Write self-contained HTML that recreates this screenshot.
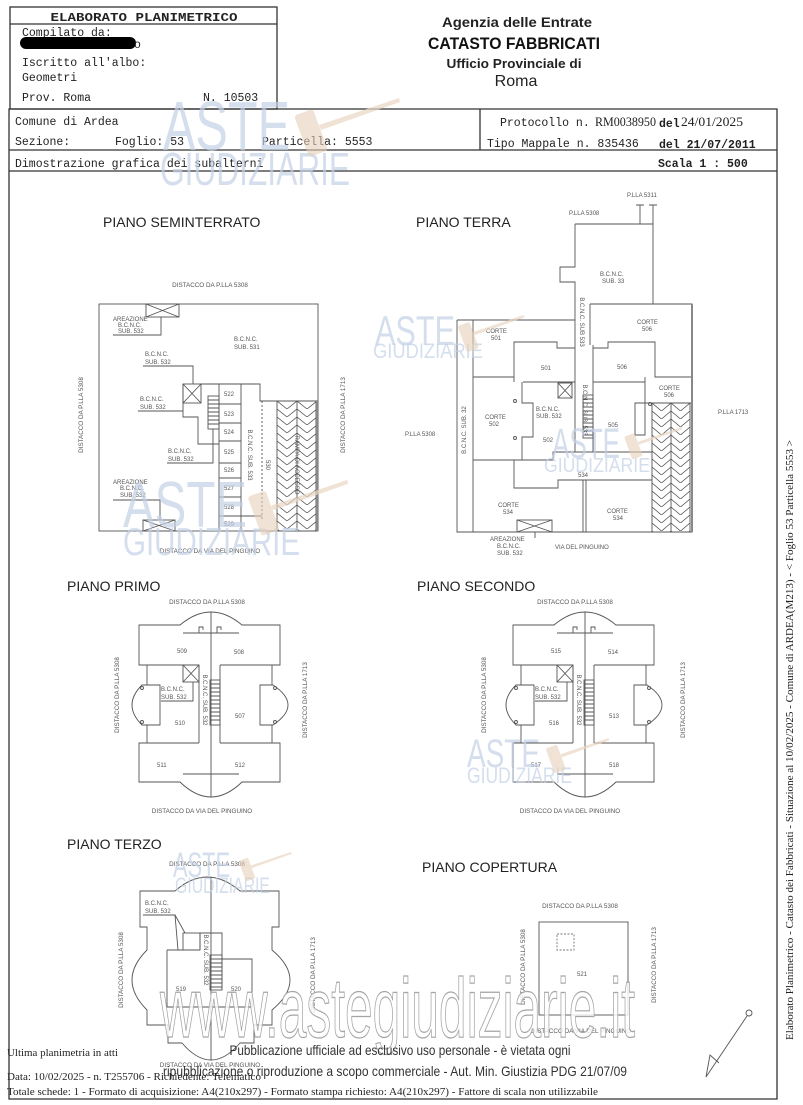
<!DOCTYPE html>
<html><head><meta charset="utf-8"><style>
html,body{margin:0;padding:0;background:#fff;}
svg{display:block;}
.m{font-family:"Liberation Mono",monospace;font-size:11.5px;fill:#222;}
.s{font-family:"Liberation Serif",serif;fill:#222;}
.t{font-family:"Liberation Sans",sans-serif;font-size:6px;fill:#555;}
.d{font-family:"Liberation Sans",sans-serif;font-size:6.3px;fill:#555;}
.h{font-family:"Liberation Sans",sans-serif;font-size:14px;fill:#222;}
.ln{stroke:#555;stroke-width:0.9;fill:none;}
.wm{font-family:"Liberation Sans",sans-serif;fill:#c2d0e5;fill-opacity:0.7;}
</style></head><body>
<svg width="803" height="1105" viewBox="0 0 803 1105" xmlns="http://www.w3.org/2000/svg">
<defs>
<pattern id="chev1" patternUnits="userSpaceOnUse" x="277" y="401" width="20" height="8"><path d="M0,0 L10,8 L20,0" fill="none" stroke="#555" stroke-width="0.8"/></pattern>
<pattern id="chev2" patternUnits="userSpaceOnUse" x="652" y="403" width="19" height="8"><path d="M0,0 L9.5,8 L19,0" fill="none" stroke="#555" stroke-width="0.8"/></pattern>
<g id="gavel">
<polygon points="156,27 236,0 237,4 158,32" fill="#ead6c2" fill-opacity="0.7"/>
<rect x="138" y="13" width="20" height="44" rx="3" fill="#e6cfb8" fill-opacity="0.6" transform="rotate(-20 148 35)"/>
</g>
</defs>

<!-- HEADER -->
<g stroke="#333" stroke-width="1.3" fill="none">
<rect x="10" y="7" width="267" height="102"/>
<line x1="10" y1="24" x2="277" y2="24"/>
<path d="M9,109 H777 V1099 H9 Z"/>
<line x1="9" y1="150" x2="777" y2="150"/>
<line x1="9" y1="171" x2="777" y2="171"/>
<line x1="480" y1="109" x2="480" y2="150"/>
</g>
<text class="m" x="144" y="21" text-anchor="middle" font-weight="bold" font-size="13px" textLength="187" lengthAdjust="spacingAndGlyphs">ELABORATO PLANIMETRICO</text>
<text class="m" x="22" y="36">Compilato da:</text>
<rect x="20" y="37" width="116" height="12" rx="6" fill="#000"/>
<text class="m" x="134" y="48">o</text>
<text class="m" x="22" y="66">Iscritto all'albo:</text>
<text class="m" x="22" y="81">Geometri</text>
<text class="m" x="22" y="101">Prov. Roma</text>
<text class="m" x="203" y="101">N. 10503</text>
<text class="m" x="15" y="125">Comune di Ardea</text>
<text class="m" x="15" y="145">Sezione:</text>
<text class="m" x="115" y="145">Foglio: 53</text>
<text class="m" x="262" y="145">Particella: 5553</text>
<text class="m" x="15" y="167">Dimostrazione grafica dei subalterni</text>
<text class="m" x="500" y="126">Protocollo n.</text>
<text class="s" x="595" y="126" font-size="12.5px" textLength="61" lengthAdjust="spacingAndGlyphs">RM0038950</text>
<text class="m" x="659" y="127" font-weight="bold">del</text>
<text class="s" x="681" y="126" font-size="12.5px" textLength="62" lengthAdjust="spacingAndGlyphs">24/01/2025</text>
<text class="m" x="487" y="147">Tipo Mappale n. 835436</text>
<text class="m" x="659" y="148" font-weight="bold">del 21/07/2011</text>
<text class="m" x="658" y="167" font-weight="bold">Scala 1 : 500</text>

<text x="517" y="27" text-anchor="middle" font-family="Liberation Sans,sans-serif" font-weight="bold" font-size="14px" fill="#222" textLength="150" lengthAdjust="spacingAndGlyphs">Agenzia delle Entrate</text>
<text x="514" y="49" text-anchor="middle" font-family="Liberation Sans,sans-serif" font-weight="bold" font-size="16.5px" fill="#111" textLength="172" lengthAdjust="spacingAndGlyphs">CATASTO FABBRICATI</text>
<text x="514" y="68" text-anchor="middle" font-family="Liberation Sans,sans-serif" font-weight="bold" font-size="13px" fill="#222" textLength="135" lengthAdjust="spacingAndGlyphs">Ufficio Provinciale di</text>
<text x="516" y="86" text-anchor="middle" font-family="Liberation Sans,sans-serif" font-size="16px" fill="#222">Roma</text>

<!-- PIANO SEMINTERRATO -->
<text class="h" x="103" y="227">PIANO SEMINTERRATO</text>
<g class="ln">
<rect x="99" y="304" width="219" height="227"/>
<rect x="146" y="304" width="33" height="13"/><path d="M146,304 L179,317 M146,317 L179,304"/>
<path d="M113,335 H161 V317"/>
<path d="M143,366 H193 V384"/>
<path d="M138,411 H183"/>
<path d="M167,463 H213 V429"/>
<path d="M113,500 H160 V520"/>
<rect x="143" y="520" width="32" height="11"/><path d="M143,520 L175,531 M143,531 L175,520"/>
<rect x="183" y="384" width="18" height="19"/><path d="M183,384 L201,403 M183,403 L201,384"/>
<path d="M183,384 V417 H198 V444 H219"/>
<path d="M201,384 H260 V401 H318"/>
<rect x="208" y="396" width="11" height="33"/>
<path d="M208,400 H219 M208,404 H219 M208,408 H219 M208,412 H219 M208,416 H219 M208,420 H219 M208,424 H219"/>
<path d="M219,384 V531 M241,384 V531"/>
<path d="M219,404 H241 M219,423 H241 M219,441 H241 M219,463 H241 M219,478 H241 M219,497 H241 M219,516 H241"/>
<path d="M262,401 V520" stroke-dasharray="2,2"/>
<path d="M241,516 H262"/>
</g>
<rect x="277" y="401" width="39" height="130" fill="url(#chev1)" stroke="#555" stroke-width="0.9"/>
<line x1="297" y1="401" x2="297" y2="531" stroke="#555" stroke-width="0.9"/>
<line x1="317" y1="401" x2="317" y2="531" stroke="#888" stroke-width="2"/>
<text class="t" x="113" y="321">AREAZIONE</text><text class="t" x="118" y="327">B.C.N.C.</text><text class="t" x="118" y="333">SUB. 532</text>
<text class="t" x="234" y="341">B.C.N.C.</text><text class="t" x="234" y="349">SUB. 531</text>
<text class="t" x="145" y="356">B.C.N.C.</text><text class="t" x="145" y="364">SUB. 532</text>
<text class="t" x="140" y="401">B.C.N.C.</text><text class="t" x="140" y="409">SUB. 532</text>
<text class="t" x="168" y="453">B.C.N.C.</text><text class="t" x="168" y="461">SUB. 532</text>
<text class="t" x="113" y="484">AREAZIONE</text><text class="t" x="120" y="490">B.C.N.C.</text><text class="t" x="120" y="497">SUB. 532</text>
<text class="t" x="224" y="396">522</text><text class="t" x="224" y="416">523</text><text class="t" x="224" y="434">524</text><text class="t" x="224" y="454">525</text><text class="t" x="224" y="472">526</text><text class="t" x="224" y="490">527</text><text class="t" x="224" y="509">528</text><text class="t" x="224" y="526">529</text>
<text class="t" transform="translate(248,455) rotate(90)" text-anchor="middle">B.C.N.C. SUB. 533</text>
<text class="t" transform="translate(266,465) rotate(90)" text-anchor="middle">530</text>
<text class="t" transform="translate(295,465) rotate(90)" text-anchor="middle" font-size="5px">RAMPA DI ACCESSO</text>
<text class="d" x="210" y="287" text-anchor="middle">DISTACCO DA P.LLA 5308</text>
<text class="d" transform="translate(83,415) rotate(-90)" text-anchor="middle">DISTACCO DA P.LLA 5308</text>
<text class="d" transform="translate(345,415) rotate(-90)" text-anchor="middle">DISTACCO DA P.LLA 1713</text>
<text class="d" x="210" y="553" text-anchor="middle">DISTACCO DA VIA DEL PINGUINO</text>

<!-- PIANO TERRA -->
<text class="h" x="416" y="227">PIANO TERRA</text>
<g class="ln">
<path d="M457,320 H575 M457,320 V532 H692 V304 H590"/>
<path d="M575,224 H653 V304 M575,224 V267 H560 V282 H575 V452"/>
<path d="M590,304 V345 M593,345 V452"/>
<path d="M640,205 V224 M653,205 V224 M636,205 H644 M649,205 H657"/>
<path d="M473,320 V532"/>
<path d="M473,377 H514 M514,382 V342 H557 V348 H575"/>
<path d="M523,382 H575"/>
<path d="M593,348 H608 V342 H655 V377 H692 M645,377 V403 H692"/>
<path d="M593,382 H645"/>
<path d="M522,382 V403 H533 V437 H522 V460 H473"/>
<path d="M635,403 H645 V435 H635 Z"/>
<path d="M514,460 V488 H558 V480 H652 M514,460 H553 V452 H652"/>
<path d="M583,480 V532 M586,480 V532"/>
<rect x="517" y="520" width="35" height="12"/><path d="M517,520 L552,532 M517,532 L552,520"/>
<path d="M535,532 V538"/>
<rect x="558" y="383" width="14" height="15"/><path d="M558,383 L572,398 M558,398 L572,383"/>
<rect x="583" y="395" width="10" height="43"/>
<path d="M583,399 H593 M583,403 H593 M583,407 H593 M583,411 H593 M583,415 H593 M583,419 H593 M583,423 H593 M583,427 H593 M583,431 H593 M583,435 H593"/>
<circle cx="515" cy="401" r="1.5"/><circle cx="515" cy="438" r="1.5"/><circle cx="650" cy="404" r="1.5"/>
</g>
<rect x="652" y="403" width="38" height="129" fill="url(#chev2)" stroke="#555" stroke-width="0.9"/>
<line x1="671" y1="403" x2="671" y2="532" stroke="#555" stroke-width="0.9"/>
<line x1="692" y1="304" x2="692" y2="532" stroke="#888" stroke-width="2"/>
<text class="t" x="627" y="197">P.LLA 5311</text>
<text class="t" x="569" y="215">P.LLA 5308</text>
<text class="t" x="600" y="276">B.C.N.C.</text><text class="t" x="602" y="283">SUB. 33</text>
<text class="t" x="486" y="333">CORTE</text><text class="t" x="491" y="340">501</text>
<text class="t" x="637" y="324">CORTE</text><text class="t" x="642" y="331">506</text>
<text class="t" x="541" y="370">501</text><text class="t" x="617" y="369">506</text>
<text class="t" x="659" y="390">CORTE</text><text class="t" x="664" y="397">506</text>
<text class="t" x="485" y="419">CORTE</text><text class="t" x="489" y="426">502</text>
<text class="t" x="536" y="411">B.C.N.C.</text><text class="t" x="536" y="418">SUB. 532</text>
<text class="t" x="608" y="427">505</text>
<text class="t" x="543" y="442">502</text>
<text class="t" x="578" y="477">534</text>
<text class="t" x="498" y="507">CORTE</text><text class="t" x="503" y="514">534</text>
<text class="t" x="607" y="513">CORTE</text><text class="t" x="613" y="520">534</text>
<text class="t" x="405" y="436">P.LLA 5308</text>
<text class="t" x="718" y="414">P.LLA 1713</text>
<text class="t" x="490" y="541">AREAZIONE</text><text class="t" x="497" y="548">B.C.N.C.</text><text class="t" x="497" y="555">SUB. 532</text>
<text class="t" x="555" y="549">VIA DEL PINGUINO</text>
<text class="t" transform="translate(466,430) rotate(-90)" text-anchor="middle">B.C.N.C. SUB. 32</text>
<text class="t" transform="translate(583,410) rotate(90)" text-anchor="middle">B.C.N.C. SUB. 533</text>
<text class="t" transform="translate(580,322) rotate(90)" text-anchor="middle" font-size="4.5px">B.C.N.C. SUB 533</text>

<!-- PIANO PRIMO & SECONDO -->
<text class="h" x="67" y="591">PIANO PRIMO</text>
<text class="h" x="417" y="591">PIANO SECONDO</text>
<g id="floor" class="ln">
<path d="M139,625 H180 Q211,599 242,625 H280 V665 H272 V685 H273 Q303,705 273,725 H272 V743 H280 V782 H242 Q211,812 180,782 H139 V743 H147 V725 H142 Q122,705 142,685 H147 V665 H139 Z"/>
<path d="M147,665 H199 M220,665 H272 M147,743 H199 M220,743 H272"/>
<path d="M147,685 H160 V725 H147 M272,685 H260 V725 H272"/>
<path d="M183,633 H239 M183,774 H239"/>
<path d="M199,633 V627 H203 V630 M217,633 V627 H221 V630"/>
<path d="M211,612 V797"/>
<path d="M199,665 V743 M220,665 V743"/>
<rect x="210" y="680" width="10" height="45"/>
<path d="M210,684 H220 M210,688 H220 M210,692 H220 M210,696 H220 M210,700 H220 M210,704 H220 M210,708 H220 M210,712 H220 M210,716 H220 M210,720 H220"/>
<rect x="183" y="665" width="16" height="17"/><path d="M183,665 L199,682 M183,682 L199,665"/>
<path d="M161,701 H193 V682"/>
<circle cx="142" cy="688" r="1.5"/><circle cx="142" cy="722" r="1.5"/><circle cx="275" cy="688" r="1.5"/><circle cx="275" cy="722" r="1.5"/>
</g>
<text class="t" x="177" y="653">509</text><text class="t" x="234" y="654">508</text>
<text class="t" x="175" y="725">510</text><text class="t" x="235" y="718">507</text>
<text class="t" x="157" y="767">511</text><text class="t" x="235" y="767">512</text>
<text class="t" x="161" y="691">B.C.N.C.</text><text class="t" x="161" y="699">SUB. 532</text>
<text class="t" transform="translate(203,700) rotate(90)" text-anchor="middle">B.C.N.C. SUB. 532</text>
<text class="d" x="207" y="604" text-anchor="middle">DISTACCO DA P.LLA 5308</text>
<text class="d" transform="translate(119,695) rotate(-90)" text-anchor="middle">DISTACCO DA P.LLA 5308</text>
<text class="d" transform="translate(307,700) rotate(-90)" text-anchor="middle">DISTACCO DA P.LLA 1713</text>
<text class="d" x="202" y="813" text-anchor="middle">DISTACCO DA VIA DEL PINGUINO</text>

<use href="#floor" transform="translate(374,0)"/>
<text class="t" x="551" y="653">515</text><text class="t" x="608" y="654">514</text>
<text class="t" x="549" y="725">516</text><text class="t" x="609" y="718">513</text>
<text class="t" x="531" y="767">517</text><text class="t" x="609" y="767">518</text>
<text class="t" x="535" y="691">B.C.N.C.</text><text class="t" x="535" y="699">SUB. 532</text>
<text class="t" transform="translate(577,700) rotate(90)" text-anchor="middle">B.C.N.C. SUB. 532</text>
<text class="d" x="575" y="604" text-anchor="middle">DISTACCO DA P.LLA 5308</text>
<text class="d" transform="translate(486,695) rotate(-90)" text-anchor="middle">DISTACCO DA P.LLA 5308</text>
<text class="d" transform="translate(685,700) rotate(-90)" text-anchor="middle">DISTACCO DA P.LLA 1713</text>
<text class="d" x="570" y="813" text-anchor="middle">DISTACCO DA VIA DEL PINGUINO</text>

<!-- PIANO TERZO -->
<text class="h" x="67" y="849">PIANO TERZO</text>
<g class="ln">
<path d="M140,891 H175 Q207,863 240,891 H279 V927 H272 V950 Q308,980 272,1010 V1025 H254 V1043 H240 Q211,1077 182,1043 H168 V1025 H147 V1010 Q117,980 147,950 V927 H140 Z"/>
<path d="M211,877 V1060"/>
<rect x="183" y="933" width="17" height="17"/>
<path d="M200,933 H222 V990 M200,933 V950"/>
<path d="M167,950 H200 M167,950 V1007 H252 V959 H222"/>
<rect x="210" y="955" width="12" height="35"/>
<path d="M210,959 H222 M210,963 H222 M210,967 H222 M210,971 H222 M210,975 H222 M210,979 H222 M210,983 H222 M210,987 H222"/>
<path d="M143,915 H175 L178,950 M175,915 L185,933"/>
</g>
<text class="t" x="145" y="905">B.C.N.C.</text><text class="t" x="145" y="913">SUB. 532</text>
<text class="t" x="176" y="991">519</text><text class="t" x="231" y="991">520</text>
<text class="t" transform="translate(204,960) rotate(90)" text-anchor="middle">B.C.N.C. SUB. 532</text>
<text class="d" x="207" y="866" text-anchor="middle">DISTACCO DA P.LLA 5308</text>
<text class="d" transform="translate(123,970) rotate(-90)" text-anchor="middle">DISTACCO DA P.LLA 5308</text>
<text class="d" transform="translate(315,975) rotate(-90)" text-anchor="middle">DISTACCO DA P.LLA 1713</text>
<text class="d" x="210" y="1067" text-anchor="middle">DISTACCO DA VIA DEL PINGUINO</text>

<!-- PIANO COPERTURA -->
<text class="h" x="422" y="872">PIANO COPERTURA</text>
<rect x="539" y="922" width="89" height="93" class="ln"/>
<rect x="557" y="934" width="17" height="16" fill="none" stroke="#777" stroke-width="0.9" stroke-dasharray="2,1.5"/>
<text class="t" x="577" y="976">521</text>
<text class="d" x="580" y="908" text-anchor="middle">DISTACCO DA P.LLA 5308</text>
<text class="d" transform="translate(525,967) rotate(-90)" text-anchor="middle">DISTACCO DA P.LLA 5308</text>
<text class="d" transform="translate(656,965) rotate(-90)" text-anchor="middle">DISTACCO DA P.LLA 1713</text>
<text class="d" x="581" y="1033" text-anchor="middle">DISTACCO DA VIA DEL PINGUINO</text>
<g class="ln">
<line x1="747" y1="1016" x2="706" y2="1077"/>
<circle cx="749" cy="1013" r="3"/>
<path d="M706,1077 L710,1055 L719,1063"/>
</g>

<!-- WATERMARKS -->
<text class="wm" x="163" y="150" font-size="70px" textLength="127" lengthAdjust="spacingAndGlyphs">ASTE</text>
<text class="wm" x="160" y="185" font-size="46px" textLength="190" lengthAdjust="spacingAndGlyphs">GIUDIZIARIE</text>
<use href="#gavel" transform="translate(163,98)"/>

<text class="wm" x="375" y="345" font-size="42px" textLength="80" lengthAdjust="spacingAndGlyphs">ASTE</text>
<text class="wm" x="373" y="358" font-size="21px" textLength="110" lengthAdjust="spacingAndGlyphs">GIUDIZIARIE</text>
<use href="#gavel" transform="translate(375,315) scale(0.63)"/>

<text class="wm" x="552" y="458" font-size="43px" textLength="68" lengthAdjust="spacingAndGlyphs">ASTE</text>
<text class="wm" x="544" y="472" font-size="20px" textLength="106" lengthAdjust="spacingAndGlyphs">GIUDIZIARIE</text>
<use href="#gavel" transform="translate(552,427) scale(0.55)"/>

<text class="wm" x="123" y="527" font-size="65px" textLength="124" lengthAdjust="spacingAndGlyphs">ASTE</text>
<text class="wm" x="123" y="555" font-size="39px" textLength="177" lengthAdjust="spacingAndGlyphs">GIUDIZIARIE</text>
<use href="#gavel" transform="translate(123,480) scale(0.95)"/>

<text class="wm" x="467" y="767" font-size="40px" textLength="73" lengthAdjust="spacingAndGlyphs">ASTE</text>
<text class="wm" x="467" y="783" font-size="22px" textLength="105" lengthAdjust="spacingAndGlyphs">GIUDIZIARIE</text>
<use href="#gavel" transform="translate(467,738) scale(0.6)"/>

<text class="wm" x="173" y="877" font-size="35px" textLength="57" lengthAdjust="spacingAndGlyphs">ASTE</text>
<text class="wm" x="175" y="893" font-size="22px" textLength="95" lengthAdjust="spacingAndGlyphs">GIUDIZIARIE</text>
<use href="#gavel" transform="translate(173,852) scale(0.5)"/>

<text x="160" y="1037" font-family="Liberation Sans,sans-serif" font-size="84px" fill="#fff" fill-opacity="0.8" stroke="#a5a5a5" stroke-width="1.2" textLength="475" lengthAdjust="spacingAndGlyphs">www.astegiudiziarie.it</text>

<!-- FOOTER -->
<text x="400" y="1055" text-anchor="middle" font-family="Liberation Sans,sans-serif" font-size="14px" fill="#333" textLength="341" lengthAdjust="spacingAndGlyphs">Pubblicazione ufficiale ad esclusivo uso personale - è vietata ogni</text>
<text x="395" y="1076" text-anchor="middle" font-family="Liberation Sans,sans-serif" font-size="14px" fill="#333" textLength="464" lengthAdjust="spacingAndGlyphs">ripubblicazione o riproduzione a scopo commerciale - Aut. Min. Giustizia PDG 21/07/09</text>
<text class="s" x="7" y="1056" font-size="10.5px" textLength="111" lengthAdjust="spacingAndGlyphs">Ultima planimetria in atti</text>
<text class="s" x="7" y="1080" font-size="10.5px" textLength="254" lengthAdjust="spacingAndGlyphs">Data: 10/02/2025 - n. T255706 - Richiedente: Telematico</text>
<text class="s" x="7" y="1095" font-size="10.5px" textLength="591" lengthAdjust="spacingAndGlyphs">Totale schede: 1 - Formato di acquisizione: A4(210x297)  - Formato stampa richiesto: A4(210x297) - Fattore di scala non utilizzabile</text>

<text class="s" transform="translate(793,740) rotate(-90)" text-anchor="middle" font-size="10.5px" textLength="600" lengthAdjust="spacingAndGlyphs">Elaborato Planimetrico - Catasto dei Fabbricati - Situazione al 10/02/2025 - Comune di ARDEA(M213) - &lt; Foglio 53 Particella 5553 &gt;</text>
</svg>
</body></html>
